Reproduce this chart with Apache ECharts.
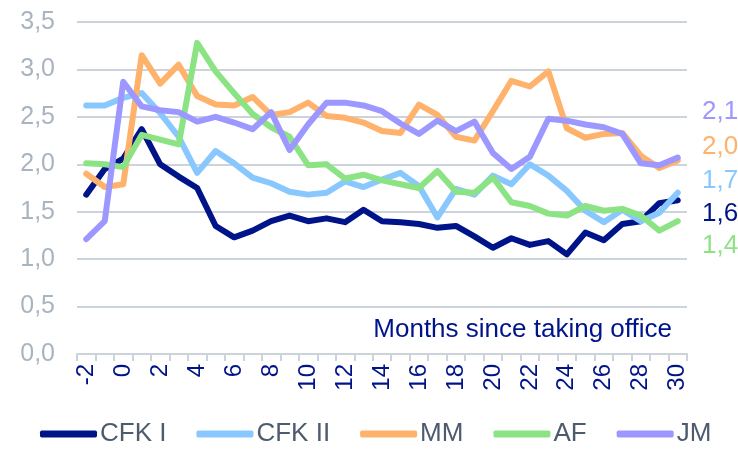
<!DOCTYPE html>
<html>
<head>
<meta charset="utf-8">
<script src="https://cdn.jsdelivr.net/npm/echarts@6/dist/echarts.min.js"></script>
<style>
html,body{margin:0;padding:0;background:#fff;}
#chart{width:738px;height:450px;}
</style>
</head>
<body>
<div id="chart"></div>
<script>
var months = [-2,-1,0,1,2,3,4,5,6,7,8,9,10,11,12,13,14,15,16,17,18,19,20,21,22,23,24,25,26,27,28,29,30];
var seriesNames = ['CFK I','CFK II','MM','AF','JM'];
var cfk1 = [1.68,1.95,2.06,2.37,2.00,1.87,1.75,1.35,1.23,1.30,1.40,1.46,1.40,1.43,1.39,1.52,1.40,1.39,1.37,1.33,1.35,1.24,1.12,1.22,1.15,1.19,1.05,1.28,1.20,1.37,1.40,1.59,1.62];
var cfk2 = [2.62,2.62,2.70,2.75,2.54,2.29,1.91,2.14,2.01,1.86,1.80,1.71,1.68,1.70,1.82,1.76,1.84,1.91,1.77,1.44,1.74,1.68,1.88,1.79,2.00,1.88,1.72,1.51,1.39,1.52,1.40,1.49,1.70];
var mm   = [1.90,1.76,1.79,3.15,2.85,3.05,2.72,2.63,2.62,2.71,2.52,2.55,2.65,2.51,2.49,2.44,2.35,2.33,2.63,2.52,2.29,2.25,2.56,2.88,2.82,2.98,2.38,2.28,2.32,2.33,2.09,1.96,2.04];
var af   = [2.01,2.00,1.97,2.31,2.26,2.21,3.28,2.98,2.75,2.53,2.39,2.29,1.99,2.00,1.85,1.89,1.83,1.79,1.75,1.93,1.71,1.70,1.86,1.60,1.56,1.48,1.46,1.56,1.51,1.53,1.46,1.30,1.40];
var jm   = [1.21,1.40,2.87,2.61,2.57,2.55,2.45,2.50,2.44,2.37,2.55,2.15,2.42,2.65,2.65,2.62,2.56,2.43,2.32,2.46,2.35,2.45,2.12,1.95,2.08,2.48,2.46,2.42,2.39,2.32,2.01,1.99,2.07];
var axisTitle = 'Months since taking office';

var colors = ['#001489','#88C8FF','#FFB26B','#8CE384','#9D98FF'];
var allData = [cfk1,cfk2,mm,af,jm];
function fmt(v){ return v.toFixed(1).replace('.',','); }

var chart = echarts.init(document.getElementById('chart'), null, {renderer:'canvas'});
var font = 'Liberation Sans, Arial, sans-serif';

var series = seriesNames.map(function(n,i){
  return {
    name:n, type:'line', data:allData[i], symbol:'none', smooth:false,
    lineStyle:{width:6, color:colors[i], cap:'round', join:'round'},
    itemStyle:{color:colors[i]},
    emphasis:{disabled:true}, animation:false
  };
});

var endOrder = [4,2,1,0,3];
var endY = [112,147,181,214,246];
var graphics = endOrder.map(function(si,k){
  var d = allData[si];
  return {type:'text', left:702, top:endY[k]-13,
    style:{text:fmt(d[d.length-1]), fill:colors[si], font:'26px '+font}};
});
graphics.push({type:'text', right:66, top:317,
  style:{text:axisTitle, fill:'#001489', font:'26px '+font, textAlign:'right'}});

chart.setOption({
  animation:false,
  color:colors,
  grid:{left:77, right:51, top:22, bottom:96, containLabel:false},
  legend:{
    bottom:-2, left:35, itemWidth:57, itemHeight:7, itemGap:30,
    icon:'roundRect',
    textStyle:{fontSize:26, color:'#4E5A6E', fontFamily:font, padding:[0,0,0,-2]},
    data:seriesNames
  },
  xAxis:{
    type:'category', data:months, boundaryGap:true,
    axisLine:{lineStyle:{color:'#CDD3DB', width:2}},
    axisTick:{show:true, interval:0, length:7, lineStyle:{color:'#CDD3DB', width:2}},
    axisLabel:{interval:1, rotate:90, margin:10, fontSize:24, color:'#001489', fontFamily:font},
    splitLine:{show:false}
  },
  yAxis:{
    type:'value', min:0, max:3.5, interval:0.5,
    axisLine:{show:false}, axisTick:{show:false},
    axisLabel:{formatter:function(v){return fmt(v);}, fontSize:25, color:'#A9B4C1', fontFamily:font, margin:22},
    splitLine:{lineStyle:{color:'#CDD3DB', width:2}}
  },
  graphic:graphics,
  series:series
});
</script>
</body>
</html>
